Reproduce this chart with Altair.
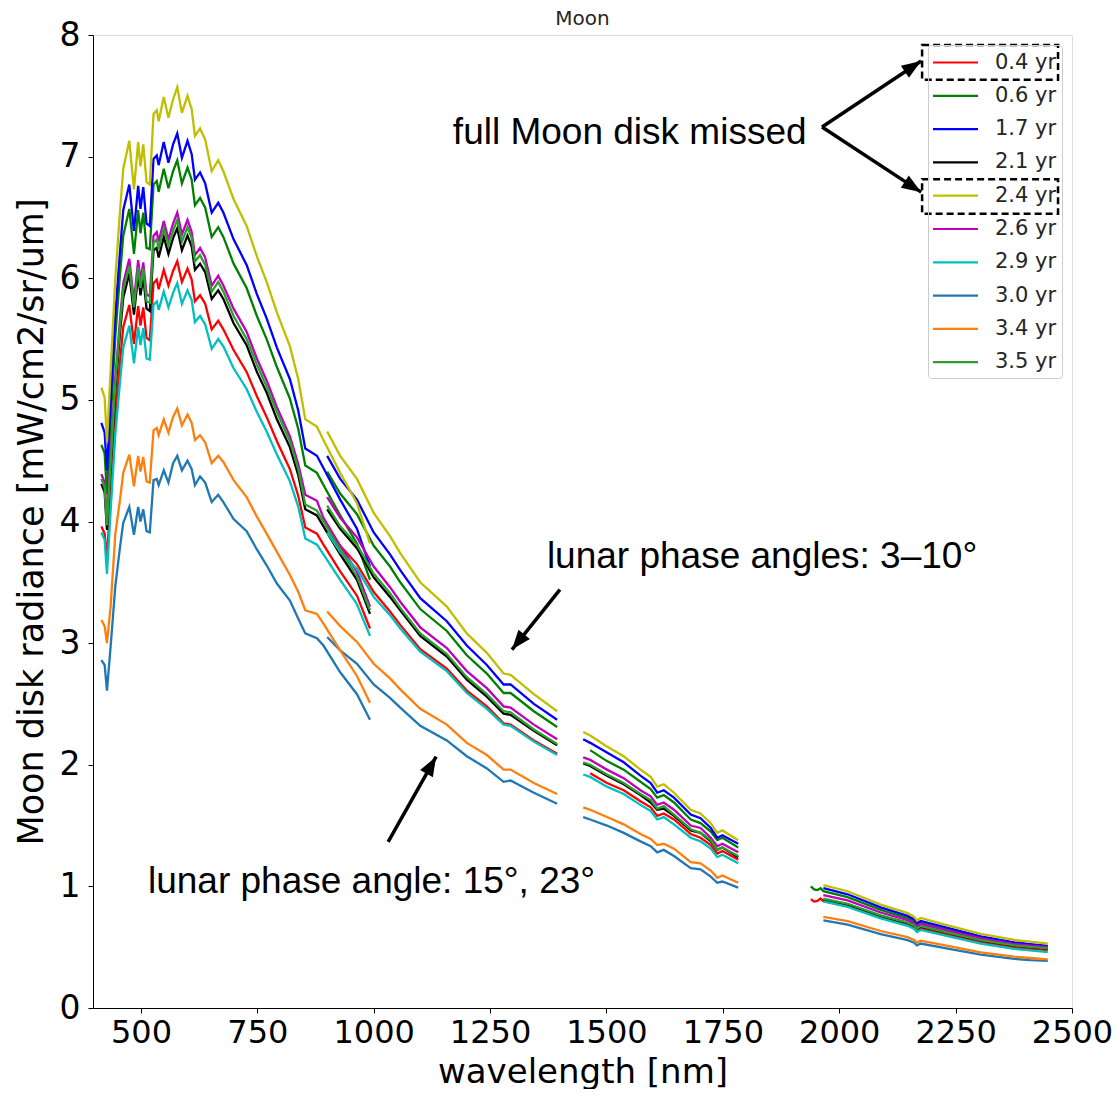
import altair as alt
import pandas as pd

LABELS = ["0.4 yr", "0.6 yr", "1.7 yr", "2.1 yr", "2.4 yr", "2.6 yr", "2.9 yr", "3.0 yr", "3.4 yr", "3.5 yr"]
COLORS = ["#ff0000", "#008000", "#0000ff", "#000000", "#bfbf00", "#bf00bf", "#00bfbf", "#1f77b4", "#ff7f0e", "#2ca02c"]

XTICKS = [500, 750, 1000, 1250, 1500, 1750, 2000, 2250, 2500]
YTICKS = [0, 1, 2, 3, 4, 5, 6, 7, 8]

# wavelength grids of the detector segments [nm]
WL_VNIR = [415, 422, 427, 435, 445, 455, 462, 475, 485, 494, 499, 505, 512, 519, 527, 534, 538, 549, 559,
           569, 578, 588, 600, 609, 616, 627, 638, 652, 666, 677, 699, 727, 749, 770, 792, 820, 838, 853,
           878, 892, 928, 964, 992]
WL_SWIR1 = [900, 928, 964, 1000, 1035, 1057, 1100, 1157, 1200, 1243, 1279, 1294, 1344, 1394]
WL_SWIR2 = [1450, 1465, 1501, 1537, 1573, 1595, 1609, 1623, 1645, 1681, 1702, 1724, 1738, 1749, 1783]
WL_SWIR2_LATE = [1465, 1501, 1537, 1573, 1595, 1609, 1623, 1645, 1681, 1702, 1724, 1738, 1749, 1783]
WL_SWIR3 = [1966, 2018, 2089, 2147, 2161, 2167, 2175, 2233, 2304, 2376, 2410, 2448]
WL_SWIR3_EARLY = [1939, 1946, 1953, 1960, 1966, 2018, 2089, 2147, 2161, 2167, 2175, 2233, 2304, 2376, 2410, 2448]

# 0.4 yr (red)
R04_VNIR = [3.96, 3.90, 3.70, 4.20, 4.87, 5.31, 5.60, 5.78, 5.46, 5.77, 5.61, 5.76, 5.51, 5.49, 5.96, 5.99, 5.91,
            6.07, 5.94, 6.06, 6.14, 5.97, 6.08, 5.99, 5.81, 5.86, 5.79, 5.58, 5.65, 5.58, 5.41, 5.23, 5.03, 4.86,
            4.66, 4.43, 4.21, 3.95, 3.90, 3.81, 3.59, 3.39, 3.12]
R04_SWIR1 = [3.96, 3.80, 3.65, 3.42, 3.26, 3.15, 2.95, 2.79, 2.61, 2.48, 2.34, 2.33, 2.20, 2.09]
R04_SWIR2 = [1.93, 1.85, 1.79, 1.70, 1.65, 1.58, 1.60, 1.55, 1.43, 1.40, 1.34, 1.27, 1.29, 1.22]
R04_SWIR3 = [0.895, 0.875, 0.88, 0.90, 0.879, 0.838, 0.744, 0.685, 0.661, 0.636, 0.656, 0.605, 0.544, 0.501,
             0.489, 0.477]
# 0.6 yr (green)
R06_VNIR = [4.63, 4.56, 4.22, 4.84, 5.53, 6.03, 6.35, 6.57, 6.20, 6.56, 6.37, 6.54, 6.25, 6.24, 6.77, 6.80, 6.71,
            6.90, 6.74, 6.88, 6.97, 6.78, 6.91, 6.81, 6.60, 6.66, 6.58, 6.34, 6.42, 6.34, 6.12, 5.92, 5.69, 5.50,
            5.27, 5.01, 4.76, 4.46, 4.40, 4.30, 4.05, 3.82, 3.52]
R06_SWIR1 = [4.41, 4.23, 4.06, 3.80, 3.63, 3.50, 3.28, 3.10, 2.90, 2.75, 2.59, 2.59, 2.44, 2.31]
R06_SWIR2 = [2.12, 2.03, 1.96, 1.86, 1.80, 1.73, 1.75, 1.69, 1.55, 1.52, 1.45, 1.38, 1.40, 1.32]
R06_SWIR3 = [1.00, 0.975, 0.97, 0.985, 0.960, 0.911, 0.807, 0.739, 0.710, 0.681, 0.700, 0.643, 0.576, 0.529,
             0.514, 0.500]
# 1.7 yr (blue)
R17_VNIR = [4.81, 4.73, 4.42, 4.99, 5.70, 6.22, 6.56, 6.77, 6.39, 6.76, 6.57, 6.75, 6.45, 6.43, 6.98, 7.01, 6.93,
            7.12, 6.95, 7.10, 7.19, 6.99, 7.13, 7.02, 6.81, 6.87, 6.78, 6.54, 6.62, 6.54, 6.32, 6.11, 5.87, 5.67,
            5.43, 5.17, 4.91, 4.60, 4.54, 4.44, 4.18, 3.94, 3.63]
R17_SWIR1 = [4.54, 4.35, 4.18, 3.91, 3.73, 3.60, 3.37, 3.18, 2.98, 2.82, 2.66, 2.66, 2.50, 2.37]
R17_SWIR2 = [2.21, 2.18, 2.10, 2.02, 1.91, 1.85, 1.77, 1.79, 1.73, 1.59, 1.56, 1.48, 1.40, 1.42, 1.35]
R17_SWIR3 = [0.985, 0.935, 0.827, 0.757, 0.728, 0.698, 0.716, 0.658, 0.589, 0.540, 0.525, 0.510]
# 2.1 yr (black)
R21_VNIR = [4.31, 4.24, 3.93, 4.45, 5.08, 5.55, 5.84, 6.04, 5.70, 6.03, 5.86, 6.01, 5.75, 5.73, 6.23, 6.25, 6.17,
            6.34, 6.20, 6.33, 6.41, 6.23, 6.35, 6.26, 6.07, 6.12, 6.05, 5.83, 5.90, 5.83, 5.63, 5.45, 5.23, 5.06,
            4.84, 4.61, 4.38, 4.10, 4.05, 3.96, 3.73, 3.52, 3.24]
R21_SWIR1 = [4.10, 3.94, 3.78, 3.54, 3.38, 3.27, 3.06, 2.89, 2.70, 2.56, 2.42, 2.41, 2.28, 2.16]
R21_SWIR2 = [2.01, 1.99, 1.91, 1.84, 1.75, 1.69, 1.63, 1.64, 1.58, 1.46, 1.44, 1.37, 1.30, 1.32, 1.24]
R21_SWIR3 = [0.894, 0.852, 0.757, 0.698, 0.674, 0.649, 0.669, 0.617, 0.556, 0.512, 0.500, 0.488]
# 2.4 yr (yellow)
R24_VNIR = [5.10, 5.02, 4.65, 5.25, 6.00, 6.55, 6.90, 7.13, 6.73, 7.12, 6.92, 7.10, 6.79, 6.77, 7.35, 7.38, 7.29,
            7.49, 7.32, 7.47, 7.57, 7.36, 7.50, 7.39, 7.17, 7.23, 7.14, 6.88, 6.97, 6.88, 6.65, 6.43, 6.18, 5.97,
            5.72, 5.44, 5.17, 4.84, 4.78, 4.67, 4.40, 4.15, 3.82]
R24_SWIR1 = [4.74, 4.54, 4.35, 4.07, 3.88, 3.74, 3.50, 3.30, 3.08, 2.92, 2.75, 2.74, 2.58, 2.44]
R24_SWIR2 = [2.27, 2.24, 2.15, 2.07, 1.96, 1.90, 1.82, 1.84, 1.77, 1.63, 1.60, 1.52, 1.44, 1.46, 1.38]
R24_SWIR3 = [1.01, 0.96, 0.85, 0.78, 0.75, 0.72, 0.74, 0.68, 0.61, 0.56, 0.545, 0.53]
# 2.6 yr (magenta)
R26_VNIR = [4.39, 4.32, 4.00, 4.54, 5.18, 5.66, 5.96, 6.16, 5.81, 6.15, 5.98, 6.13, 5.87, 5.85, 6.35, 6.38, 6.30,
            6.47, 6.32, 6.45, 6.54, 6.36, 6.48, 6.38, 6.19, 6.25, 6.17, 5.94, 6.02, 5.94, 5.75, 5.56, 5.34, 5.16,
            4.94, 4.70, 4.47, 4.22, 4.17, 4.03, 3.80, 3.59, 3.30]
R26_SWIR1 = [4.20, 4.03, 3.87, 3.63, 3.46, 3.34, 3.13, 2.96, 2.77, 2.63, 2.48, 2.47, 2.33, 2.21]
R26_SWIR2 = [2.06, 2.04, 1.96, 1.89, 1.79, 1.74, 1.67, 1.69, 1.63, 1.50, 1.48, 1.40, 1.33, 1.35, 1.28]
R26_SWIR3 = [0.929, 0.885, 0.785, 0.722, 0.696, 0.670, 0.690, 0.636, 0.572, 0.526, 0.513, 0.500]
# 2.9 yr (cyan)
R29_VNIR = [3.91, 3.85, 3.57, 4.10, 4.72, 5.15, 5.43, 5.61, 5.30, 5.60, 5.45, 5.59, 5.34, 5.33, 5.78, 5.81, 5.74,
            5.89, 5.76, 5.88, 5.96, 5.79, 5.90, 5.82, 5.64, 5.69, 5.62, 5.42, 5.50, 5.44, 5.26, 5.09, 4.90, 4.74,
            4.55, 4.33, 4.12, 3.86, 3.81, 3.73, 3.52, 3.32, 3.06]
R29_SWIR1 = [3.91, 3.75, 3.61, 3.38, 3.23, 3.12, 2.93, 2.77, 2.59, 2.46, 2.33, 2.32, 2.19, 2.08]
R29_SWIR2 = [1.92, 1.90, 1.82, 1.76, 1.67, 1.62, 1.55, 1.57, 1.51, 1.40, 1.37, 1.31, 1.24, 1.26, 1.19]
R29_SWIR3 = [0.876, 0.832, 0.737, 0.676, 0.650, 0.624, 0.642, 0.590, 0.529, 0.486, 0.473, 0.460]
# 3.0 yr (tab blue)
R30_VNIR = [2.86, 2.82, 2.61, 2.98, 3.47, 3.79, 3.99, 4.12, 3.89, 4.12, 4.00, 4.10, 3.92, 3.91, 4.34, 4.35, 4.30,
            4.42, 4.32, 4.48, 4.54, 4.42, 4.50, 4.43, 4.30, 4.37, 4.32, 4.16, 4.22, 4.16, 4.02, 3.92, 3.77, 3.64,
            3.49, 3.35, 3.20, 3.08, 3.04, 2.98, 2.76, 2.58, 2.37]
R30_SWIR1 = [3.05, 2.94, 2.83, 2.66, 2.55, 2.47, 2.32, 2.20, 2.07, 1.97, 1.86, 1.87, 1.77, 1.68]
R30_SWIR2 = [1.57, 1.55, 1.50, 1.44, 1.37, 1.33, 1.28, 1.30, 1.25, 1.15, 1.14, 1.08, 1.03, 1.04, 0.99]
R30_SWIR3 = [0.720, 0.685, 0.607, 0.558, 0.536, 0.515, 0.530, 0.488, 0.438, 0.404, 0.393, 0.387]
# 3.4 yr (tab orange)
R34_VNIR = [3.19, 3.14, 3.00, 3.31, 3.90, 4.18, 4.40, 4.55, 4.29, 4.54, 4.41, 4.53, 4.33, 4.32, 4.75, 4.77, 4.71,
            4.84, 4.73, 4.86, 4.93, 4.79, 4.88, 4.81, 4.67, 4.71, 4.65, 4.48, 4.54, 4.49, 4.34, 4.20, 4.04, 3.90,
            3.75, 3.56, 3.42, 3.27, 3.24, 3.16, 2.94, 2.73, 2.51]
R34_SWIR1 = [3.26, 3.14, 3.01, 2.83, 2.71, 2.62, 2.46, 2.33, 2.18, 2.08, 1.96, 1.96, 1.85, 1.76]
R34_SWIR2 = [1.65, 1.63, 1.57, 1.51, 1.43, 1.39, 1.34, 1.35, 1.31, 1.20, 1.19, 1.13, 1.07, 1.09, 1.03]
R34_SWIR3 = [0.750, 0.714, 0.633, 0.582, 0.560, 0.539, 0.554, 0.510, 0.458, 0.422, 0.411, 0.400]
# 3.5 yr (tab green)
R35_VNIR = [4.35, 4.28, 3.97, 4.49, 5.14, 5.61, 5.91, 6.10, 5.76, 6.09, 5.92, 6.08, 5.81, 5.80, 6.29, 6.32, 6.24,
            6.41, 6.27, 6.39, 6.48, 6.30, 6.42, 6.33, 6.14, 6.19, 6.11, 5.89, 5.97, 5.89, 5.69, 5.50, 5.29, 5.11,
            4.90, 4.66, 4.43, 4.14, 4.09, 4.00, 3.77, 3.55, 3.27]
R35_SWIR1 = [4.13, 3.96, 3.81, 3.57, 3.41, 3.29, 3.08, 2.91, 2.72, 2.58, 2.44, 2.43, 2.29, 2.17]
R35_SWIR2 = [2.02, 2.00, 1.92, 1.85, 1.76, 1.71, 1.64, 1.66, 1.59, 1.47, 1.44, 1.38, 1.30, 1.32, 1.25]
R35_SWIR3 = [0.899, 0.857, 0.762, 0.702, 0.677, 0.652, 0.673, 0.620, 0.558, 0.515, 0.502, 0.490]

SERIES = {
    "0.4 yr": [(WL_VNIR, R04_VNIR), (WL_SWIR1, R04_SWIR1), (WL_SWIR2_LATE, R04_SWIR2), (WL_SWIR3_EARLY, R04_SWIR3)],
    "0.6 yr": [(WL_VNIR, R06_VNIR), (WL_SWIR1, R06_SWIR1), (WL_SWIR2_LATE, R06_SWIR2), (WL_SWIR3_EARLY, R06_SWIR3)],
    "1.7 yr": [(WL_VNIR, R17_VNIR), (WL_SWIR1, R17_SWIR1), (WL_SWIR2, R17_SWIR2), (WL_SWIR3, R17_SWIR3)],
    "2.1 yr": [(WL_VNIR, R21_VNIR), (WL_SWIR1, R21_SWIR1), (WL_SWIR2, R21_SWIR2), (WL_SWIR3, R21_SWIR3)],
    "2.4 yr": [(WL_VNIR, R24_VNIR), (WL_SWIR1, R24_SWIR1), (WL_SWIR2, R24_SWIR2), (WL_SWIR3, R24_SWIR3)],
    "2.6 yr": [(WL_VNIR, R26_VNIR), (WL_SWIR1, R26_SWIR1), (WL_SWIR2, R26_SWIR2), (WL_SWIR3, R26_SWIR3)],
    "2.9 yr": [(WL_VNIR, R29_VNIR), (WL_SWIR1, R29_SWIR1), (WL_SWIR2, R29_SWIR2), (WL_SWIR3, R29_SWIR3)],
    "3.0 yr": [(WL_VNIR, R30_VNIR), (WL_SWIR1, R30_SWIR1), (WL_SWIR2, R30_SWIR2), (WL_SWIR3, R30_SWIR3)],
    "3.4 yr": [(WL_VNIR, R34_VNIR), (WL_SWIR1, R34_SWIR1), (WL_SWIR2, R34_SWIR2), (WL_SWIR3, R34_SWIR3)],
    "3.5 yr": [(WL_VNIR, R35_VNIR), (WL_SWIR1, R35_SWIR1), (WL_SWIR2, R35_SWIR2), (WL_SWIR3, R35_SWIR3)],
}

TITLE = "Moon"
TITLE_X = [1448.5]
TITLE_Y = [8.08]

# annotations (data coordinates)
ANN_TEXT = ["full Moon disk missed", "lunar phase angles: 3\u201310\u00b0", "lunar phase angle: 15\u00b0, 23\u00b0"]
ANN_X = [1170, 1372, 515]
ANN_Y = [7.10, 3.62, 0.947]

ARROW_X0 = [1963, 1963, 1400, 1031]
ARROW_Y0 = [7.243, 7.243, 3.440, 1.366]
ARROW_X1 = [2176, 2176, 1297, 1134]
ARROW_Y1 = [7.786, 6.708, 2.947, 2.066]
ARROW_ANGLE = [56.6, 123.0, 218.7, 29.5]

BOX_X0 = [2178, 2178]
BOX_X1 = [2470, 2470]
BOX_Y0 = [7.632, 6.530]
BOX_Y1 = [7.918, 6.815]

rows = []
for lab, segs in SERIES.items():
    for k, (wl, vals) in enumerate(segs):
        assert len(wl) == len(vals), (lab, k)
        for w, v in zip(wl, vals):
            rows.append({"series": lab, "seg": f"{lab}-{k}", "wl": w, "rad": v})
df = pd.DataFrame(rows)

ann_df = pd.DataFrame({"x": ANN_X, "y": ANN_Y, "text": ANN_TEXT})
title_df = pd.DataFrame({"x": TITLE_X, "y": TITLE_Y, "text": [TITLE]})
arrow_df = pd.DataFrame({"x": ARROW_X0, "y": ARROW_Y0, "x2": ARROW_X1, "y2": ARROW_Y1, "ang": ARROW_ANGLE})
box_df = pd.DataFrame({"x": BOX_X0, "x2": BOX_X1, "y": BOX_Y0, "y2": BOX_Y1})

FONT = "DejaVu Sans"
xscale = alt.Scale(domain=[397, 2500], nice=False, zero=False)
yscale = alt.Scale(domain=[0, 8], nice=False)
cscale = alt.Scale(domain=LABELS, range=COLORS)

xaxis = alt.Axis(values=XTICKS, title="wavelength [nm]", labelFontSize=32, titleFontSize=34,
                 labelFont=FONT, titleFont=FONT, titleFontWeight="normal", labelColor="black",
                 titleColor="black", tickColor="black", domainColor="black", tickSize=5,
                 labelPadding=4, titleBaseline="alphabetic", titleY=74, grid=False, labelFlush=False,
                 labelOverlap=False, format="d")
yaxis = alt.Axis(values=YTICKS, title="Moon disk radiance [mW/cm2/sr/um]", labelFontSize=33, titleFontSize=35,
                 labelFont=FONT, titleFont=FONT, titleFontWeight="normal", labelColor="black",
                 titleColor="black", tickColor="black", domainColor="black", tickSize=5,
                 labelPadding=8, titlePadding=10, grid=False, format="d")

legend = alt.Legend(title=None, orient="top-right", offset=10, symbolType="M-2,0L2,0", symbolSize=506,
                    symbolStrokeWidth=2.2, symbolOffset=10, labelFontSize=21, labelFont=FONT,
                    labelColor="#262626", labelOffset=27, rowPadding=10.3, padding=5, strokeColor="#cccccc",
                    cornerRadius=3)

base = alt.Chart(df)
layers = []
for i, lab in enumerate(LABELS):
    layers.append(
        base.transform_filter(alt.datum.series == lab)
        .mark_line(strokeWidth=2.3, clip=True)
        .encode(
            x=alt.X("wl:Q", scale=xscale, axis=xaxis),
            y=alt.Y("rad:Q", scale=yscale, axis=yaxis),
            color=alt.Color("series:N", scale=cscale, legend=legend),
            detail="seg:N",
        )
    )

title_mark = alt.Chart(title_df).mark_text(align="center", baseline="alphabetic", font=FONT, fontSize=20,
                                           color="#262626").encode(
    x=alt.X("x:Q", scale=xscale), y=alt.Y("y:Q", scale=yscale), text="text:N")

texts = alt.Chart(ann_df).mark_text(align="left", baseline="alphabetic", font="Liberation Sans",
                                    fontSize=37, color="black").encode(
    x=alt.X("x:Q", scale=xscale), y=alt.Y("y:Q", scale=yscale), text="text:N")

shafts = alt.Chart(arrow_df).mark_rule(strokeWidth=3.5, color="black").encode(
    x=alt.X("x:Q", scale=xscale), y=alt.Y("y:Q", scale=yscale), x2="x2:Q", y2="y2:Q")

heads = alt.Chart(arrow_df).mark_point(shape="M0,0L-0.75,2L0.75,2Z", filled=True, size=380, color="black",
                                       opacity=1).encode(
    x=alt.X("x2:Q", scale=xscale), y=alt.Y("y2:Q", scale=yscale), angle=alt.Angle("ang:Q", scale=None))

boxes = alt.Chart(box_df).mark_rect(fillOpacity=0, stroke="black", strokeWidth=2.5, strokeDash=[7, 4]).encode(
    x=alt.X("x:Q", scale=xscale), x2="x2:Q", y=alt.Y("y:Q", scale=yscale), y2="y2:Q")

chart = alt.layer(*layers, title_mark, texts, shafts, heads, boxes).properties(
    width=979, height=973,
    padding={"left": 85, "top": 27, "right": 40, "bottom": 81},
    autosize=alt.AutoSizeParams(type="none"),
).configure_view(stroke="black", strokeWidth=1.2).configure(background="white")

chart.save("out.html", embed_options={"renderer": "svg", "actions": False})
